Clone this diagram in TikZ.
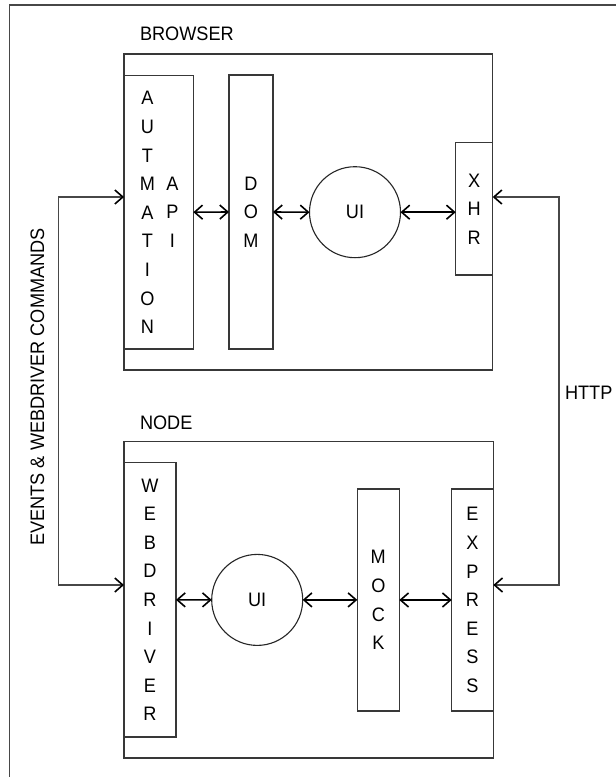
\documentclass[tikz,border=0pt]{standalone}
\usepackage{fontspec}
\setmainfont[FakeStretch=0.93]{Liberation Sans}
\usetikzlibrary{arrows.meta}
\begin{document}
\begin{tikzpicture}[x=1pt,y=-1pt,
  every node/.style={font=\fontsize{19.5pt}{28.6pt}\selectfont, inner sep=0pt, outer sep=0pt},
  container/.style={draw=black!78, line width=1.3pt, fill=white},
  comp/.style={draw=black!78, line width=1.3pt, fill=white, align=center},
  uicirc/.style={draw=black!85, line width=1.1pt, circle, minimum size=91pt, fill=white},
  lbl/.style={anchor=west},
  dar/.style={draw=black, line width=1.6pt, {Straight Barb[length=8pt,width=14pt]}-{Straight Barb[length=8pt,width=14pt]}},
  conn/.style={draw=black!72, line width=1.3pt, {Straight Barb[length=8pt,width=14pt,color=black,line width=1.6pt]}-{Straight Barb[length=8pt,width=14pt,color=black,line width=1.6pt]}},
  framec/.style={draw=black!72, line width=1.3pt}
]
\useasboundingbox (0,0) rectangle (616,777);
% outer frame (cropped)
\draw[framec] (9.3,777) -- (9.3,5) -- (616,5);

% BROWSER
\node[lbl] (browserlbl) at (140,34) {BROWSER};
\node[container, minimum width=368.7pt, minimum height=316pt] (browser) at (308.35,212) {};
\node[comp, minimum width=69.3pt, minimum height=273.7pt] (aut) at (158.7,212.2) {};
\node[align=center] (auttext) at (147.5,212.5) {A\\U\\T\\M\\A\\T\\I\\O\\N};
\node[align=center] (apitext) at (172.5,212) {A\\P\\I};
\node[comp, minimum width=44pt, minimum height=274pt] (dom) at (251,212) {D\\O\\M};
\node[uicirc] (ui1) at (355,212.2) {UI};
\node[comp, minimum width=37pt, minimum height=132.3pt] (xhr) at (474.2,208.9) {X\\H\\R};

\draw[dar] (aut.east) -- (dom.west);
\draw[dar] (dom.east) -- (ui1.west);
\draw[dar] (ui1.east) -- (ui1.east -| xhr.west);

% NODE
\node[lbl] (nodelbl) at (140,423) {NODE};
\node[container, minimum width=369.3pt, minimum height=316.3pt] (nodebox) at (308.65,599.85) {};
\node[comp, minimum width=52pt, minimum height=274.3pt] (web) at (150,599.85) {W\\E\\B\\D\\R\\I\\V\\E\\R};
\node[uicirc] (ui2) at (257.2,599.9) {UI};
\node[comp, minimum width=42pt, minimum height=222pt] (mock) at (378.3,600) {M\\O\\C\\K};
\node[comp, minimum width=41.6pt, minimum height=222pt] (exp) at (472.5,600) {E\\X\\P\\R\\E\\S\\S};

\draw[dar] (web.east) -- (ui2.west);
\draw[dar] (ui2.east) -- (ui2.east -| mock.west);
\draw[dar] (mock.east) -- (mock.east -| exp.west);

% long connectors
\coordinate (lc1) at (58.3,197);
\coordinate (lc2) at (58.3,585);
\coordinate (rc1) at (559,197);
\coordinate (rc2) at (559,585);
\draw[conn] (aut.west |- lc1) -- (lc1) -- (lc2) -- (web.west |- lc2);
\draw[conn] (xhr.east |- rc1) -- (rc1) -- (rc2) -- (exp.east |- rc2);

\node[rotate=90] (events) at (37.5,387) {EVENTS \& WEBDRIVER COMMANDS};
\node[lbl] (http) at (565,393) {HTTP};
\end{tikzpicture}
\end{document}
